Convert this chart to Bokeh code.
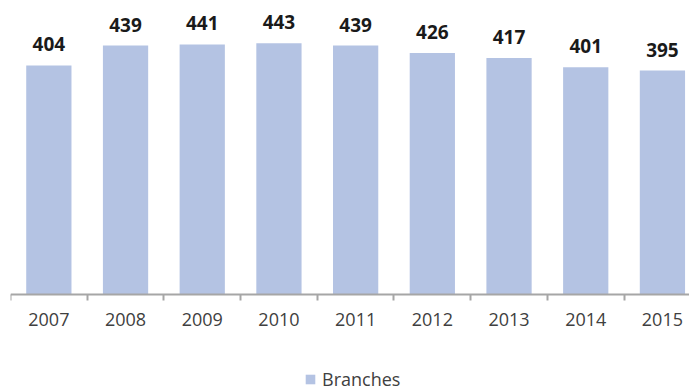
from bokeh.plotting import figure
from bokeh.models import ColumnDataSource, FixedTicker, LinearAxis, Legend, LegendItem, Range1d
from bokeh.core.properties import value
from bokeh.embed import file_html
from bokeh.resources import INLINE

years = ["2007", "2008", "2009", "2010", "2011", "2012", "2013", "2014", "2015"]
branches = [404, 439, 441, 443, 439, 426, 417, 401, 395]

xs = [i + 0.5 for i in range(len(years))]
src = ColumnDataSource(dict(x=xs, top=branches, label=[str(v) for v in branches]))

p = figure(width=689, height=392, output_backend="svg", toolbar_location=None,
           x_range=Range1d(0, 8.853), y_range=Range1d(-172.8, 518.5),
           x_axis_type=None, y_axis_type=None,
           min_border_left=10, min_border_right=0, min_border_top=0, min_border_bottom=0)
p.outline_line_color = None
p.grid.visible = False
p.background_fill_color = "white"

r = p.vbar(x="x", top="top", bottom=0, width=0.59, source=src, fill_color="#b4c3e3", line_color=None)

p.text(x="x", y="top", text="label", source=src, text_align="center", text_baseline="bottom",
       y_offset=-14, text_font=value("Open Sans"), text_font_style="bold",
       text_font_size="19px", text_color="#1a1a1a")

ax = LinearAxis(ticker=FixedTicker(ticks=xs, minor_ticks=list(range(len(years) + 1))),
                major_label_overrides={x: y for x, y in zip(xs, years)},
                fixed_location=0)
ax.axis_line_color = "#a6a6a6"
ax.axis_line_width = 2
ax.major_tick_line_color = None
ax.major_tick_out = 0
ax.major_tick_in = 0
ax.minor_tick_line_color = "#a6a6a6"
ax.minor_tick_line_width = 2
ax.minor_tick_out = 6
ax.minor_tick_in = 0
ax.major_label_standoff = 12
ax.major_label_text_font = "Open Sans"
ax.major_label_text_font_size = "18px"
ax.major_label_text_color = "#404040"
p.add_layout(ax, "below")

legend = Legend(items=[LegendItem(label="Branches", renderers=[r])], location=(294, 1),
                orientation="horizontal", border_line_color=None, background_fill_alpha=0,
                glyph_width=12, glyph_height=12, label_standoff=6,
                label_text_font="Open Sans", label_text_font_size="18px", label_text_color="#404040",
                margin=0, padding=0)
p.add_layout(legend)

open("out.html", "w").write(file_html(p, INLINE))
